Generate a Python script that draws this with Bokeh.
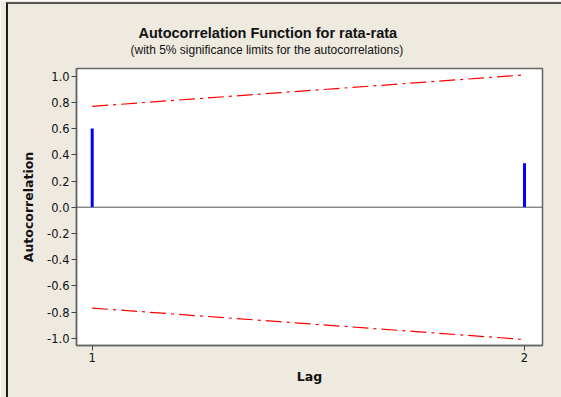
from bokeh.plotting import figure
from bokeh.models import Span, Title, FixedTicker, Range1d, PrintfTickFormatter, InlineStyleSheet
from bokeh.embed import file_html
from bokeh.resources import INLINE

# Data
lags = [1, 2]
acf = [0.60, 0.335]
upper_limit = [0.77, 1.01]
lower_limit = [-0.77, -1.01]
zeros = [0.0, 0.0]
y_ticks = [-1.0, -0.8, -0.6, -0.4, -0.2, 0.0, 0.2, 0.4, 0.6, 0.8, 1.0]
x_ticks = [1, 2]

BG = "#EEEAE0"

p = figure(width=561, height=397, output_backend="svg", toolbar_location=None,
           x_range=Range1d(0.9637, 2.0416), y_range=Range1d(-1.0557, 1.0588),
           min_border_left=76, min_border_right=19, min_border_top=68,
           min_border_bottom=52)
p.background_fill_color = "white"
p.border_fill_color = BG
p.outline_line_color = "#666666"
p.outline_line_width = 1.5
p.grid.visible = False

# outer window frame (left and top edges visible in the reference)
p.stylesheets = [InlineStyleSheet(css=(
    ":host::after { content: ''; position: absolute; left: 6px; top: 2px; "
    "right: 0px; bottom: 0px; border-left: 2px solid #1e1e1e; "
    "border-top: 2px solid #555555; pointer-events: none; z-index: 10; }"))]

# zero reference line
p.add_layout(Span(location=0, dimension="width", line_color="#555555", line_width=1))

# significance limits
p.line(lags, upper_limit, line_color="#FF0000", line_width=1.2, line_dash="16 5 3 5")
p.line(lags, lower_limit, line_color="#FF0000", line_width=1.2, line_dash="16 5 3 5")

# ACF bars
p.segment(x0=lags, y0=zeros, x1=lags, y1=acf, line_color="#0000FF", line_width=3,
          line_cap="butt")

for ax in (p.xaxis[0], p.yaxis[0]):
    ax.axis_line_color = "#666666"
    ax.axis_line_width = 1.5
    ax.major_tick_line_color = "#444444"
    ax.major_tick_out = 5
    ax.major_tick_in = 0
    ax.minor_tick_line_color = None
    ax.major_label_text_font = "DejaVu Sans"
    ax.major_label_text_font_size = "11.5px"
    ax.major_label_text_color = "#111111"
    ax.axis_label_text_font = "DejaVu Sans"
    ax.axis_label_text_font_style = "bold"
    ax.axis_label_text_font_size = "12.5px"
    ax.axis_label_text_color = "#111111"

p.yaxis.ticker = FixedTicker(ticks=y_ticks)
p.yaxis.formatter = PrintfTickFormatter(format="%.1f")
p.yaxis.major_label_standoff = 2
p.yaxis.axis_label = "Autocorrelation"
p.yaxis.axis_label_standoff = 8

p.xaxis.ticker = FixedTicker(ticks=x_ticks)
p.xaxis.major_label_standoff = 2
p.xaxis.axis_label = "Lag"
p.xaxis.axis_label_standoff = 4

subtitle = Title(text="(with 5% significance limits for the autocorrelations)",
                 align="left", offset=54, standoff=24,
                 text_font="Liberation Sans", text_font_size="12px",
                 text_font_style="normal", text_color="#111111")
title = Title(text="Autocorrelation Function for rata-rata",
              align="left", offset=62, standoff=-24,
              text_font="Liberation Sans", text_font_style="bold",
              text_font_size="14.5px", text_color="#111111")
p.add_layout(subtitle, "above")
p.add_layout(title, "above")

open("out.html", "w").write(file_html(p, INLINE))
